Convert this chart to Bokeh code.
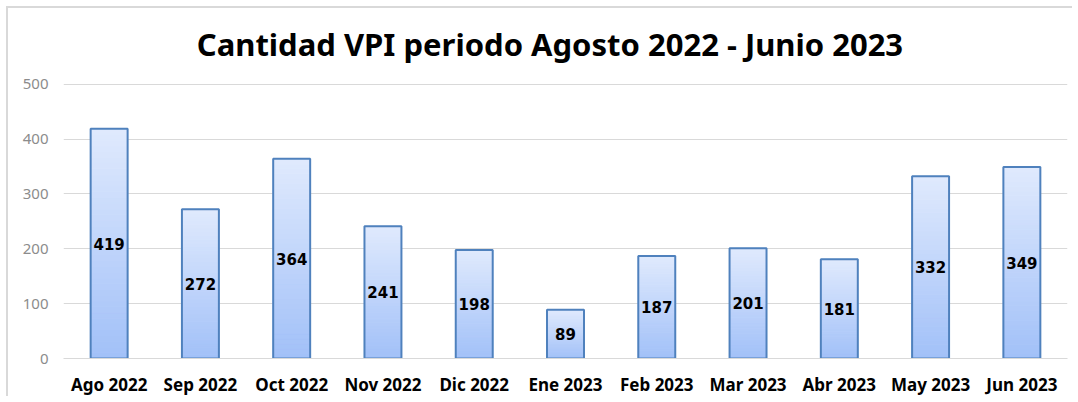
from bokeh.plotting import figure
from bokeh.models import ColumnDataSource, FactorRange, Range1d, FixedTicker, Label
from bokeh.core.properties import value
from bokeh.embed import file_html
from bokeh.resources import INLINE

months = ["Ago 2022", "Sep 2022", "Oct 2022", "Nov 2022", "Dic 2022", "Ene 2023",
          "Feb 2023", "Mar 2023", "Abr 2023", "May 2023", "Jun 2023"]
counts = [419, 272, 364, 241, 198, 89, 187, 201, 181, 332, 349]
y_ticks = [0, 100, 200, 300, 400, 500]
title_text = "Cantidad VPI periodo Agosto 2022 - Junio 2023"

BAR_W = 0.405
N = 40
top_rgb = (0xDF, 0xE9, 0xFD)
bot_rgb = (0xA2, 0xC1, 0xF8)

def mix(t):
    r = [round(b + (a - b) * t) for a, b in zip(top_rgb, bot_rgb)]
    return "#%02x%02x%02x" % tuple(r)

sx, sb, st, sc = [], [], [], []
for m, v in zip(months, counts):
    for k in range(N):
        sx.append(m)
        sb.append(v * k / N)
        st.append(v * (k + 1) / N)
        sc.append(mix(k / (N - 1)))
slices = ColumnDataSource(dict(x=sx, bottom=sb, top=st, color=sc))

src = ColumnDataSource(dict(x=months, top=counts, mid=[c / 2 for c in counts],
                            label=[str(c) for c in counts]))

# frame extends over the title area so the title can sit inside it
p = figure(width=1066, height=390, x_range=FactorRange(*months, range_padding=0),
           y_range=Range1d(0, 638), output_backend="svg", toolbar_location=None,
           min_border_left=55, min_border_right=7, min_border_top=0, min_border_bottom=37)
p.styles = {"border-top": "2px solid #d9d9d9", "border-left": "2px solid #d9d9d9",
            "margin-left": "6px", "margin-top": "6px"}

p.add_layout(Label(x=1.46, y=574, text=title_text, text_font="Noto Sans",
                   text_font_style="bold", text_font_size="31px", text_color="#000000",
                   text_align="left", text_baseline="alphabetic"))

p.vbar(x="x", bottom="bottom", top="top", width=BAR_W, source=slices,
       fill_color="color", line_color="color", line_width=1)
p.vbar(x="x", top="top", width=BAR_W, source=src, fill_color=None,
       line_color="#4f81bd", line_width=2)
p.text(x="x", y="mid", text="label", source=src, text_align="center",
       text_baseline="middle", text_font=value("DejaVu Sans"), text_font_style="bold",
       text_font_size="15px", text_color="#000000")

p.outline_line_color = None
p.xgrid.grid_line_color = None
p.ygrid.grid_line_color = "#d9d9d9"
p.ygrid.ticker = FixedTicker(ticks=y_ticks)

p.yaxis.ticker = FixedTicker(ticks=y_ticks)
p.yaxis.axis_line_color = None
p.yaxis.major_tick_line_color = None
p.yaxis.minor_tick_line_color = None
p.yaxis.major_label_text_font = "Noto Sans"
p.yaxis.major_label_text_font_size = "15px"
p.yaxis.major_label_text_color = "#8c8c8c"
p.yaxis.major_label_standoff = 9

p.xaxis.axis_line_color = "#d9d9d9"
p.xaxis.major_tick_line_color = None
p.xaxis.minor_tick_line_color = None
p.xaxis.major_label_text_font = "Noto Sans"
p.xaxis.major_label_text_font_style = "bold"
p.xaxis.major_label_text_font_size = "17px"
p.xaxis.major_label_text_color = "#000000"
p.xaxis.major_label_standoff = 8

open("out.html", "w").write(file_html(p, INLINE))
